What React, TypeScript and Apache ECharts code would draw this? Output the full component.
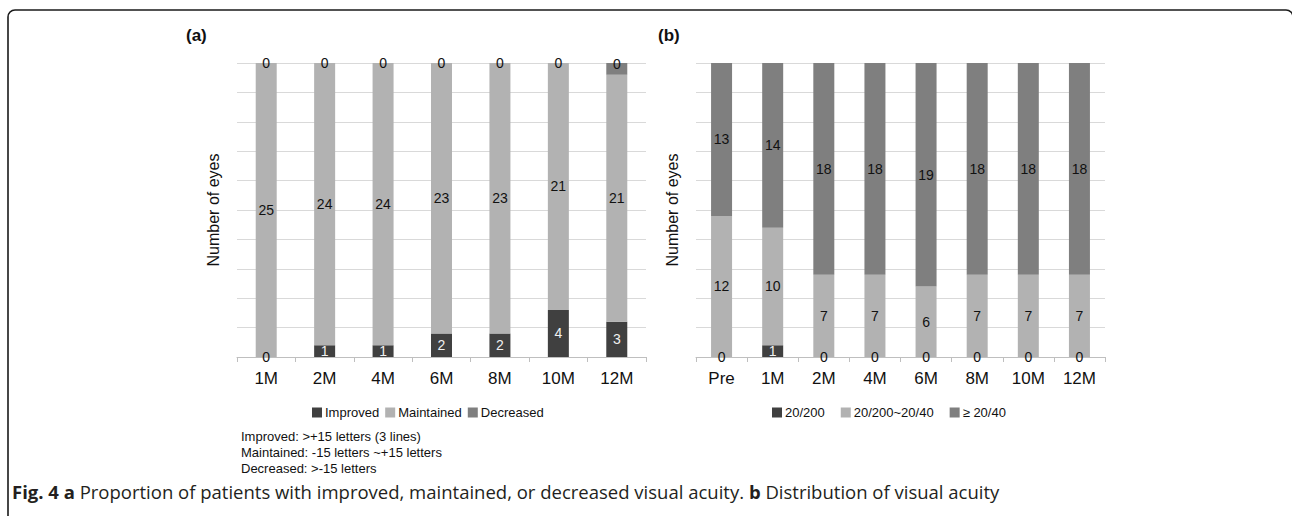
import React, { useEffect, useRef } from "react";
import * as echarts from "echarts";

const monthsA = ["1M", "2M", "4M", "6M", "8M", "10M", "12M"];
const improved = [0, 1, 1, 2, 2, 4, 3];
const maintained = [25, 24, 24, 23, 23, 21, 21];
const decreased = [0, 0, 0, 0, 0, 0, 1];
const decreasedLabels = [0, 0, 0, 0, 0, 0, 0];

const monthsB = ["Pre", "1M", "2M", "4M", "6M", "8M", "10M", "12M"];
const va200 = [0, 1, 0, 0, 0, 0, 0, 0];
const vaMid = [12, 10, 7, 7, 6, 7, 7, 7];
const va40 = [13, 14, 18, 18, 19, 18, 18, 18];

const legendA = ["Improved", "Maintained", "Decreased"];
const legendB = ["20/200", "20/200~20/40", "\u2265 20/40"];
const notes = [
  "Improved: >+15 letters (3 lines)",
  "Maintained: -15 letters ~+15 letters",
  "Decreased: >-15 letters",
];

const DARK = "#404040";
const LIGHT = "#b2b2b2";
const MID = "#7f7f7f";
const FF = "Liberation Sans";

function totals(arrs: number[][]) {
  return arrs[0].map((_, i) => arrs.reduce((s, a) => s + a[i], 0));
}

export default function App() {
  const ref = useRef<HTMLDivElement>(null);
  useEffect(() => {
    if (!ref.current) return;
    const chart = echarts.init(ref.current, undefined, { renderer: "svg" });
    const totA = totals([improved, maintained, decreased]);
    const totB = totals([va200, vaMid, va40]);

    const mk = (
      name: string,
      vals: number[],
      labels: number[],
      tot: number[],
      color: string,
      idx: number,
      stack: string,
      darkLabel: boolean,
      topSeries: boolean
    ) => ({
      name,
      type: "bar",
      stack,
      xAxisIndex: idx,
      yAxisIndex: idx,
      barWidth: 21,
      itemStyle: { color },
      label: {
        show: true,
        position: "inside",
        fontFamily: FF,
        fontSize: 14,
        color: "#111",
        formatter: (p: any) => String(labels[p.dataIndex]),
      },
      data: vals.map((v, i) => ({
        value: (v / tot[i]) * 100,
        label: {
          color: darkLabel && v > 0 ? "#f0f0f0" : "#111",
          offset: topSeries && v > 0 && labels[i] === 0 ? [0, -5] : [0, 0],
        },
      })),
    });

    const xAx = (data: string[], gi: number) => ({
      type: "category",
      gridIndex: gi,
      data,
      axisLine: { lineStyle: { color: "#bfbfbf", width: 1 } },
      axisTick: { show: true, length: 5, lineStyle: { color: "#bfbfbf" } },
      axisLabel: {
        fontFamily: FF,
        fontSize: 17,
        color: "#111",
        margin: 13,
      },
    });
    const yAx = (gi: number) => ({
      type: "value",
      gridIndex: gi,
      min: 0,
      max: 100,
      interval: 10,
      name: "Number of eyes",
      nameLocation: "middle",
      nameGap: 16,
      nameTextStyle: {
        fontFamily: FF,
        fontSize: 16,
        color: "#111",
      },
      axisLabel: { show: false },
      axisLine: { show: false },
      axisTick: { show: false },
      splitLine: { lineStyle: { color: "#d9d9d9", width: 1 } },
    });

    chart.setOption({
      animation: false,
      grid: [
        { left: 237, top: 63, width: 409, height: 294 },
        { left: 696, top: 63, width: 409, height: 294 },
      ],
      xAxis: [xAx(monthsA, 0), xAx(monthsB, 1)],
      yAxis: [yAx(0), yAx(1)],
      legend: [
        {
          data: legendA,
          left: 307,
          top: 401,
          itemWidth: 10,
          itemHeight: 10,
          itemGap: 6,
          icon: "rect",
          textStyle: { fontFamily: FF, fontSize: 13, color: "#111", padding: [0, 0, 0, -2] },
        },
        {
          data: legendB,
          left: 767,
          top: 401,
          itemWidth: 10,
          itemHeight: 10,
          itemGap: 16,
          icon: "rect",
          textStyle: { fontFamily: FF, fontSize: 13, color: "#111", padding: [0, 0, 0, -2] },
        },
      ],
      series: [
        mk(legendA[0], improved, improved, totA, DARK, 0, "a", true, false),
        mk(legendA[1], maintained, maintained, totA, LIGHT, 0, "a", false, false),
        mk(legendA[2], decreased, decreasedLabels, totA, MID, 0, "a", false, true),
        mk(legendB[0], va200, va200, totB, DARK, 1, "b", true, false),
        mk(legendB[1], vaMid, vaMid, totB, LIGHT, 1, "b", false, false),
        mk(legendB[2], va40, va40, totB, MID, 1, "b", false, true),
      ],
      graphic: [
        {
          type: "rect",
          shape: { x: 8, y: 10, width: 1285, height: 530, r: 7 },
          style: { fill: "none", stroke: "#1a1a1a", lineWidth: 1.6 },
          silent: true,
        },
        {
          type: "text",
          x: 186,
          y: 27,
          style: { text: "(a)", fontFamily: FF, fontWeight: "bold", fontSize: 17, fill: "#111" },
        },
        {
          type: "text",
          x: 658,
          y: 27,
          style: { text: "(b)", fontFamily: FF, fontWeight: "bold", fontSize: 17, fill: "#111" },
        },
        ...notes.map((t, i) => ({
          type: "text",
          x: 241,
          y: 430 + i * 16,
          style: { text: t, fontFamily: FF, fontSize: 13, fill: "#111" },
        })),
        {
          type: "text",
          x: 12,
          y: 482,
          style: {
            text: "{b|Fig. 4 a} Proportion of patients with improved, maintained, or decreased visual acuity. {b|b} Distribution of visual acuity",
            fontFamily: "Open Sans",
            fontSize: 18.5,
            fill: "#231f20",
            rich: {
              b: { fontWeight: "bold", fontFamily: "Open Sans", fontSize: 18.5, fill: "#231f20" },
            },
          },
        },
      ],
    });
    return () => chart.dispose();
  }, []);
  return (
    <div
      ref={ref}
      style={{ position: "absolute", left: 0, top: 0, width: 1292, height: 516, background: "#fff" }}
    />
  );
}
